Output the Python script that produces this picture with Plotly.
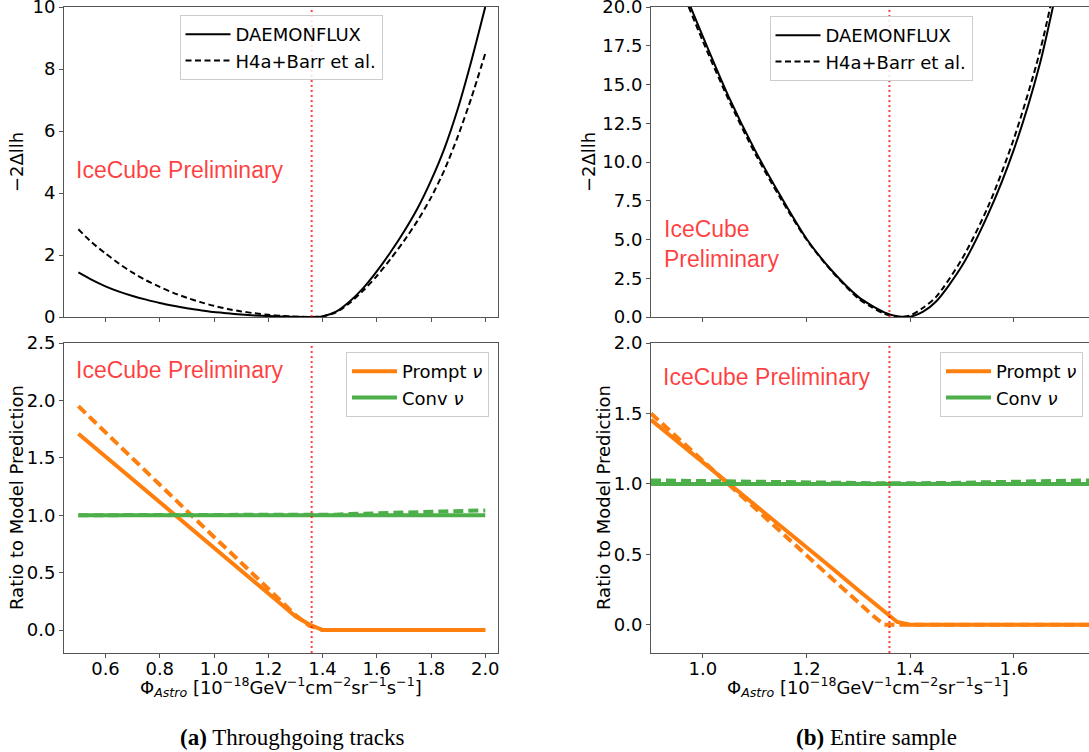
import plotly.graph_objects as go

# ---------------- data ----------------
# (a) Throughgoing tracks
phi_tracks = [0.50, 0.55, 0.60, 0.65, 0.70, 0.75, 0.80, 0.85, 0.90, 0.95,
              1.00, 1.05, 1.10, 1.15, 1.20, 1.25, 1.30, 1.35, 1.40, 1.45,
              1.50, 1.55, 1.60, 1.65, 1.70, 1.75, 1.80, 1.85, 1.90, 1.95, 2.00]
llh_daemon_tracks = [1.44, 1.20, 0.99, 0.82, 0.68, 0.56, 0.45, 0.36, 0.28, 0.22,
                     0.16, 0.12, 0.08, 0.05, 0.03, 0.015, 0.005, 0.0, 0.02, 0.17,
                     0.50, 0.93, 1.47, 2.08, 2.75, 3.50, 4.40, 5.45, 6.75, 8.30, 10.0]
llh_h4a_tracks = [2.83, 2.40, 2.05, 1.72, 1.43, 1.18, 0.97, 0.78, 0.62, 0.48,
                  0.36, 0.26, 0.18, 0.12, 0.07, 0.035, 0.012, 0.0, 0.02, 0.15,
                  0.45, 0.85, 1.32, 1.86, 2.45, 3.10, 3.85, 4.75, 5.85, 7.10, 8.50]
prompt_daemon_tracks = [1.71, 1.61, 1.51, 1.41, 1.31, 1.21, 1.11, 1.01, 0.91, 0.81,
                        0.71, 0.615, 0.52, 0.42, 0.32, 0.22, 0.12, 0.05, 0.0, 0.0,
                        0.0, 0.0, 0.0, 0.0, 0.0, 0.0, 0.0, 0.0, 0.0, 0.0, 0.0]
prompt_h4a_tracks = [1.95, 1.835, 1.72, 1.61, 1.50, 1.385, 1.27, 1.155, 1.04, 0.925,
                     0.81, 0.70, 0.59, 0.475, 0.36, 0.245, 0.13, 0.04, 0.0, 0.0,
                     0.0, 0.0, 0.0, 0.0, 0.0, 0.0, 0.0, 0.0, 0.0, 0.0, 0.0]
conv_daemon_tracks = [1.0, 1.0, 1.0, 1.0, 1.0, 1.0, 1.0, 1.0, 1.0, 1.0,
                      1.0, 1.0, 1.0, 1.0, 1.0, 1.0, 1.0, 1.0, 1.0, 1.0,
                      1.0, 1.0, 1.0, 1.0, 1.0, 1.0, 1.0, 1.0, 1.0, 1.0, 1.0]
conv_h4a_tracks = [1.0, 1.0, 1.0, 1.0, 1.0, 1.0, 1.0, 1.0, 1.0, 1.0,
                   1.0, 1.0, 1.0, 1.0, 1.0, 1.0, 1.0, 1.0, 1.0, 1.005,
                   1.01, 1.012, 1.015, 1.018, 1.02, 1.025, 1.03, 1.033, 1.036, 1.04, 1.042]

# (b) Entire sample
phi_all = [0.90, 0.95, 1.00, 1.05, 1.10, 1.15, 1.20, 1.25, 1.30, 1.325, 1.35,
           1.375, 1.40, 1.425, 1.45, 1.50, 1.55, 1.60, 1.65, 1.70, 1.75]
llh_daemon_all = [26.6, 22.2, 18.1, 14.2, 10.8, 7.8, 5.05, 2.95, 1.3, 0.75, 0.3,
                  0.05, 0.02, 0.35, 1.0, 3.3, 6.6, 10.8, 16.3, 23.8, 31.0]
llh_h4a_all = [26.3, 21.9, 17.8, 14.0, 10.6, 7.65, 5.0, 2.9, 1.2, 0.65, 0.22,
               0.01, 0.1, 0.6, 1.3, 3.75, 7.1, 11.5, 17.1, 24.6, 32.0]
prompt_daemon_all = [1.455, 1.305, 1.15, 1.0, 0.85, 0.70, 0.55, 0.40, 0.245, 0.17, 0.095,
                     0.02, 0.0, 0.0, 0.0, 0.0, 0.0, 0.0, 0.0, 0.0, 0.0]
prompt_h4a_all = [1.50, 1.33, 1.165, 0.995, 0.83, 0.66, 0.49, 0.325, 0.16, 0.075, 0.0,
                  0.0, 0.0, 0.0, 0.0, 0.0, 0.0, 0.0, 0.0, 0.0, 0.0]
conv_daemon_all = [1.0, 1.0, 1.0, 1.0, 1.0, 1.0, 1.0, 1.0, 1.0, 1.0, 1.0,
                   1.0, 1.0, 1.0, 1.0, 1.0, 1.0, 1.0, 1.0, 1.0, 1.0]
conv_h4a_all = [1.025, 1.022, 1.02, 1.017, 1.015, 1.012, 1.01, 1.008, 1.005, 1.005, 1.004,
                1.004, 1.004, 1.005, 1.006, 1.008, 1.012, 1.015, 1.018, 1.022, 1.025]

best_fit_phi = 1.36

model_names = ["DAEMONFLUX", "H4a+Barr et al."]
component_names = ["Prompt <i>ν</i>", "Conv <i>ν</i>"]
captions = ["<b>(a)</b> Throughgoing tracks", "<b>(b)</b> Entire sample"]
xtitle = "Φ<sub><i>Astro</i></sub> [10<sup>−18</sup>GeV<sup>−1</sup>cm<sup>−2</sup>sr<sup>−1</sup>s<sup>−1</sup>]"

# ---------------- styles ----------------
W, H = 1089, 752
FONT = "DejaVu Sans"
ORANGE = "#ff7f0e"
GREEN = "#4caf4a"
RED_TXT = "rgba(255,0,0,0.75)"
AXC = "#555555"


def px_x(p):
    return p / W


def px_y(p):
    return 1 - p / H


fig = go.Figure()

# top-left
fig.add_trace(go.Scatter(x=phi_tracks, y=llh_daemon_tracks, mode="lines", name=model_names[0],
                         line=dict(color="black", width=2, shape="spline", smoothing=0.6),
                         xaxis="x", yaxis="y", legend="legend"))
fig.add_trace(go.Scatter(x=phi_tracks, y=llh_h4a_tracks, mode="lines", name=model_names[1],
                         line=dict(color="black", width=2, dash="6px,3.5px", shape="spline", smoothing=0.6),
                         xaxis="x", yaxis="y", legend="legend"))
# top-right
fig.add_trace(go.Scatter(x=phi_all, y=llh_daemon_all, mode="lines", name=model_names[0],
                         line=dict(color="black", width=2, shape="spline", smoothing=0.8),
                         xaxis="x2", yaxis="y2", legend="legend2"))
fig.add_trace(go.Scatter(x=phi_all, y=llh_h4a_all, mode="lines", name=model_names[1],
                         line=dict(color="black", width=2, dash="6px,3.5px", shape="spline", smoothing=0.8),
                         xaxis="x2", yaxis="y2", legend="legend2"))
# bottom-left
fig.add_trace(go.Scatter(x=phi_tracks, y=prompt_daemon_tracks, mode="lines", name=component_names[0],
                         line=dict(color=ORANGE, width=4), xaxis="x3", yaxis="y3", legend="legend3"))
fig.add_trace(go.Scatter(x=phi_tracks, y=prompt_h4a_tracks, mode="lines", showlegend=False,
                         line=dict(color=ORANGE, width=4, dash="10px,5px"), xaxis="x3", yaxis="y3"))
fig.add_trace(go.Scatter(x=phi_tracks, y=conv_daemon_tracks, mode="lines", name=component_names[1],
                         line=dict(color=GREEN, width=4), xaxis="x3", yaxis="y3", legend="legend3"))
fig.add_trace(go.Scatter(x=phi_tracks, y=conv_h4a_tracks, mode="lines", showlegend=False,
                         line=dict(color=GREEN, width=4, dash="10px,5px"), xaxis="x3", yaxis="y3"))
# bottom-right
fig.add_trace(go.Scatter(x=phi_all, y=prompt_daemon_all, mode="lines", name=component_names[0],
                         line=dict(color=ORANGE, width=4), xaxis="x4", yaxis="y4", legend="legend4"))
fig.add_trace(go.Scatter(x=phi_all, y=prompt_h4a_all, mode="lines", showlegend=False,
                         line=dict(color=ORANGE, width=4, dash="10px,5px"), xaxis="x4", yaxis="y4"))
fig.add_trace(go.Scatter(x=phi_all, y=conv_daemon_all, mode="lines", name=component_names[1],
                         line=dict(color=GREEN, width=4), xaxis="x4", yaxis="y4", legend="legend4"))
fig.add_trace(go.Scatter(x=phi_all, y=conv_h4a_all, mode="lines", showlegend=False,
                         line=dict(color=GREEN, width=4, dash="10px,5px"), xaxis="x4", yaxis="y4"))

# best-fit vertical lines
for xr, yr in [("x", "y"), ("x2", "y2"), ("x3", "y3"), ("x4", "y4")]:
    fig.add_shape(type="line", xref=xr, yref=yr + " domain", x0=best_fit_phi, x1=best_fit_phi,
                  y0=0, y1=1, line=dict(color="rgba(255,0,0,0.75)", width=2, dash="2px,3px"))

common_axis = dict(showline=True, linecolor=AXC, linewidth=1, mirror=True, ticks="outside",
                   ticklen=4, tickcolor=AXC, showgrid=False, zeroline=False, automargin=False,
                   ticklabeloverflow="allow",
                   tickfont=dict(family=FONT, size=18, color="black"))
xextra = dict(ticklabelstandoff=-5)

L0, L1 = px_x(64), px_x(498)
R0, R1 = px_x(651), 1.0
T0, T1 = px_y(317), px_y(7)
B0, B1 = px_y(653), px_y(343)

fig.update_layout(
    template="none",
    width=W, height=H, margin=dict(l=0, r=0, t=0, b=0, pad=0), autosize=False,
    paper_bgcolor="white", plot_bgcolor="white",
    font=dict(family=FONT, size=18, color="black"),
    xaxis=dict(domain=[L0, L1], range=[0.447, 2.047], anchor="y", tickvals=[0.6, 0.8, 1.0, 1.2, 1.4, 1.6, 1.8, 2.0],
               showticklabels=False, **common_axis),
    yaxis=dict(domain=[T0, T1], range=[0, 10], anchor="x", tickvals=[0, 2, 4, 6, 8, 10], **common_axis),
    xaxis2=dict(domain=[R0, R1], range=[0.9, 1.745], anchor="y2", tickvals=[1.0, 1.2, 1.4, 1.6],
                showticklabels=False, **common_axis),
    yaxis2=dict(domain=[T0, T1], range=[0, 20], anchor="x2",
                tickvals=[0, 2.5, 5, 7.5, 10, 12.5, 15, 17.5, 20], tickformat=".1f", **common_axis),
    xaxis3=dict(domain=[L0, L1], range=[0.447, 2.047], anchor="y3",
                tickvals=[0.6, 0.8, 1.0, 1.2, 1.4, 1.6, 1.8, 2.0], tickformat=".1f", **common_axis, **xextra),
    yaxis3=dict(domain=[B0, B1], range=[-0.2, 2.5], anchor="x3",
                tickvals=[0, 0.5, 1.0, 1.5, 2.0, 2.5], tickformat=".1f", **common_axis),
    xaxis4=dict(domain=[R0, R1], range=[0.9, 1.745], anchor="y4",
                tickvals=[1.0, 1.2, 1.4, 1.6], tickformat=".1f", **common_axis, **xextra),
    yaxis4=dict(domain=[B0, B1], range=[-0.2, 2.0], anchor="x4",
                tickvals=[0, 0.5, 1.0, 1.5, 2.0], tickformat=".1f", **common_axis),
)

legend_style = dict(bgcolor="rgba(255,255,255,0.85)", bordercolor="#cccccc", borderwidth=1,
                    font=dict(family=FONT, size=18, color="black"), tracegroupgap=0, itemwidth=45)
fig.update_layout(
    legend=dict(x=px_x(281), y=px_y(15), xanchor="center", yanchor="top", **legend_style),
    legend2=dict(x=px_x(871), y=px_y(16), xanchor="center", yanchor="top", **legend_style),
    legend3=dict(x=px_x(489), y=px_y(352), xanchor="right", yanchor="top", **legend_style),
    legend4=dict(x=px_x(1083), y=px_y(352), xanchor="right", yanchor="top", **legend_style),
)

ann = []
red_font = dict(family="Liberation Sans", size=23, color=RED_TXT)
ann.append(dict(text="IceCube Preliminary", x=px_x(74), y=px_y(170), xref="paper", yref="paper",
                xanchor="left", yanchor="middle", showarrow=False, font=red_font))
ann.append(dict(text="IceCube<br>Preliminary", x=px_x(662), y=px_y(244), xref="paper", yref="paper",
                xanchor="left", yanchor="middle", showarrow=False, align="left", font=red_font))
ann.append(dict(text="IceCube Preliminary", x=px_x(74), y=px_y(370), xref="paper", yref="paper",
                xanchor="left", yanchor="middle", showarrow=False, font=red_font))
ann.append(dict(text="IceCube Preliminary", x=px_x(661), y=px_y(377), xref="paper", yref="paper",
                xanchor="left", yanchor="middle", showarrow=False, font=red_font))

tfont = dict(family=FONT, size=18, color="black")
ann.append(dict(text="−2Δllh", x=px_x(16), y=px_y(162), xref="paper", yref="paper", textangle=-90,
                xanchor="center", yanchor="middle", showarrow=False, font=tfont))
ann.append(dict(text="−2Δllh", x=px_x(588), y=px_y(162), xref="paper", yref="paper", textangle=-90,
                xanchor="center", yanchor="middle", showarrow=False, font=tfont))
ann.append(dict(text="Ratio to Model Prediction", x=px_x(16), y=px_y(498), xref="paper", yref="paper",
                textangle=-90, xanchor="center", yanchor="middle", showarrow=False, font=tfont))
ann.append(dict(text="Ratio to Model Prediction", x=px_x(603), y=px_y(498), xref="paper", yref="paper",
                textangle=-90, xanchor="center", yanchor="middle", showarrow=False, font=tfont))
ann.append(dict(text=xtitle, x=px_x(281), y=px_y(687), xref="paper", yref="paper",
                xanchor="center", yanchor="middle", showarrow=False, font=tfont))
ann.append(dict(text=xtitle, x=px_x(868), y=px_y(687), xref="paper", yref="paper",
                xanchor="center", yanchor="middle", showarrow=False, font=tfont))

cap_font = dict(family="Liberation Serif", size=23, color="black")
ann.append(dict(text=captions[0], x=px_x(292), y=px_y(737), xref="paper", yref="paper",
                xanchor="center", yanchor="middle", showarrow=False, font=cap_font))
ann.append(dict(text=captions[1], x=px_x(876), y=px_y(737), xref="paper", yref="paper",
                xanchor="center", yanchor="middle", showarrow=False, font=cap_font))
fig.update_layout(annotations=ann)

fig.write_html("out.html", config={"displayModeBar": False},
               post_script="document.body.style.margin='0';document.body.style.overflow='hidden';")
